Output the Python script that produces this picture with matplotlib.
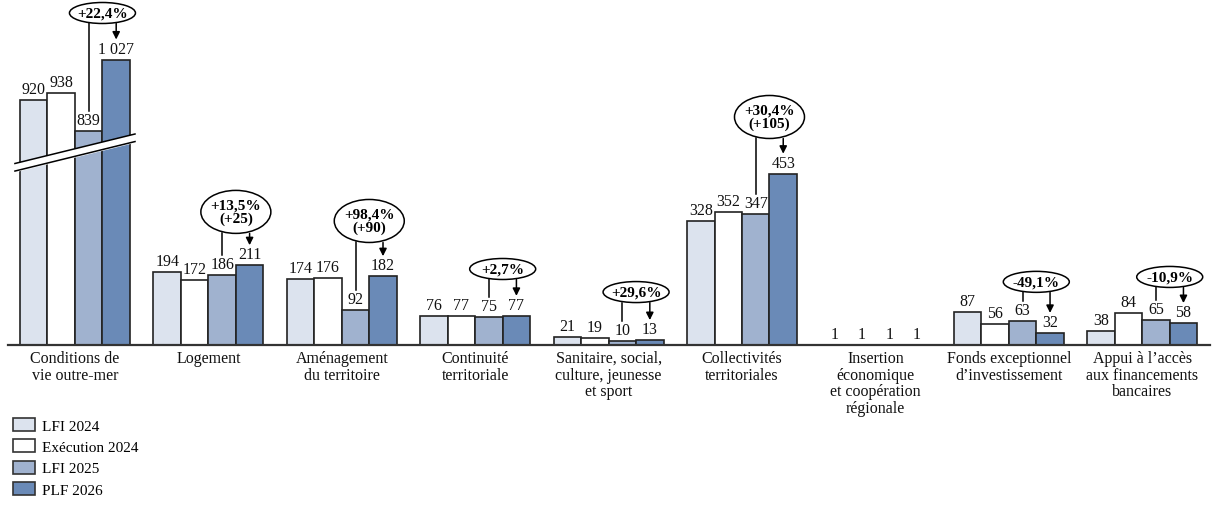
import matplotlib
matplotlib.use("Agg")
import matplotlib.pyplot as plt
from matplotlib.patches import Ellipse, Patch
import numpy as np

plt.rcParams['font.family'] = ['Liberation Serif', 'DejaVu Serif']

categories = [
    "Conditions de\nvie outre-mer",
    "Logement",
    "Aménagement\ndu territoire",
    "Continuité\nterritoriale",
    "Sanitaire, social,\nculture, jeunesse\net sport",
    "Collectivités\nterritoriales",
    "Insertion\néconomique\net coopération\nrégionale",
    "Fonds exceptionnel\nd’investissement",
    "Appui à l’accès\naux financements\nbancaires",
]
series = ["LFI 2024", "Exécution 2024", "LFI 2025", "PLF 2026"]
lfi_2024 = [920, 194, 174, 76, 21, 328, 1, 87, 38]
exec_2024 = [938, 172, 176, 77, 19, 352, 1, 56, 84]
lfi_2025 = [839, 186, 92, 75, 10, 347, 1, 63, 65]
plf_2026 = [1027, 211, 182, 77, 13, 453, 1, 32, 58]

# variation labels (None = no bubble)
variations = ["+22,4%", "+13,5%\n(+25)", "+98,4%\n(+90)", "+2,7%", "+29,6%",
              "+30,4%\n(+105)", None, "-49,1%", "-10,9%"]
# bubble heights (in chart units above baseline)
bubble_y = [878, 352, 328, 201, 140, 603, None, 167, 180]

colors = ["#dce3ee", "#ffffff", "#a0b2cf", "#6a8ab7"]
break_offset = 272  # first group is drawn with a broken axis

fig = plt.figure(figsize=(12.18, 5.06), dpi=100)
ax = fig.add_axes([8 / 1218, 160 / 506, 1202 / 1218, 346 / 506])
ax.set_xlim(-0.502, 8.508)
ax.set_ylim(0, 915)
ax.axis("off")

x = np.arange(len(categories))
w = 0.206
data = [lfi_2024, exec_2024, lfi_2025, plf_2026]
offsets = [-1.5 * w, -0.5 * w, 0.5 * w, 1.5 * w]

px = 915 / 346  # chart units per pixel (vertical)

for s, vals in enumerate(data):
    shown = [v - break_offset if i == 0 else v for i, v in enumerate(vals)]
    ax.bar(x + offsets[s], shown, width=w, color=colors[s], edgecolor="#222222",
           linewidth=1.2, zorder=2)
    for i, v in enumerate(vals):
        ax.text(x[i] + offsets[s], shown[i] + 3 * px, f"{v:,}".replace(",", " "),
                ha="center", va="bottom", fontsize=11.5, color="#111111", zorder=5)

# baseline
ax.plot([-0.502, 8.508], [0, 0], color="#333333", lw=1.6, zorder=3, clip_on=False)

# axis break on first group
bx = np.array([-0.45, 0.45])
up = np.array([480, 558])
lo = np.array([460, 538])
ax.fill_between(bx, lo, up, color="white", zorder=4)
ax.plot(bx, up, color="black", lw=1.1, zorder=4)
ax.plot(bx, lo, color="black", lw=1.1, zorder=4)

# variation bubbles
for i, lab in enumerate(variations):
    if lab is None:
        continue
    two = "\n" in lab
    ew = (70 if two else 66) / 133.4
    eh = (43 if two else 21) * px
    cx = x[i] + w
    cy = bubble_y[i]
    ax.add_patch(Ellipse((cx, cy), ew, eh, facecolor="white", edgecolor="black",
                         lw=1.1, zorder=6))
    ax.text(cx, cy, lab, ha="center", va="center", fontsize=11,
            fontweight="bold", linespacing=1.05, zorder=7)
    bottom = cy - eh / 2
    v3 = lfi_2025[i] - (break_offset if i == 0 else 0)
    v4 = plf_2026[i] - (break_offset if i == 0 else 0)
    ax.plot([x[i] + offsets[2]] * 2, [bottom, v3 + 20 * px], color="black",
            lw=1.1, zorder=5)
    ax.annotate("", xy=(x[i] + offsets[3], v4 + 20 * px),
                xytext=(x[i] + offsets[3], bottom),
                arrowprops=dict(arrowstyle="-|>", color="black", lw=1.1,
                                mutation_scale=11, shrinkA=0, shrinkB=0),
                zorder=5)

# category labels
for i, c in enumerate(categories):
    ax.text(x[i], -5 * px, c, ha="center", va="top", fontsize=11.5,
            linespacing=1.05, color="#111111")

handles = [Patch(facecolor=colors[s], edgecolor="#333333", lw=1.2) for s in range(4)]
fig.legend(handles, series, loc="upper left",
           bbox_to_anchor=(0.0105, 1 - 419 / 506), bbox_transform=fig.transFigure,
           frameon=False, fontsize=11, handlelength=1.45, handleheight=0.95,
           handletextpad=0.45, labelspacing=0.42, borderaxespad=0, borderpad=0)

fig.savefig("out.png", dpi=100)
